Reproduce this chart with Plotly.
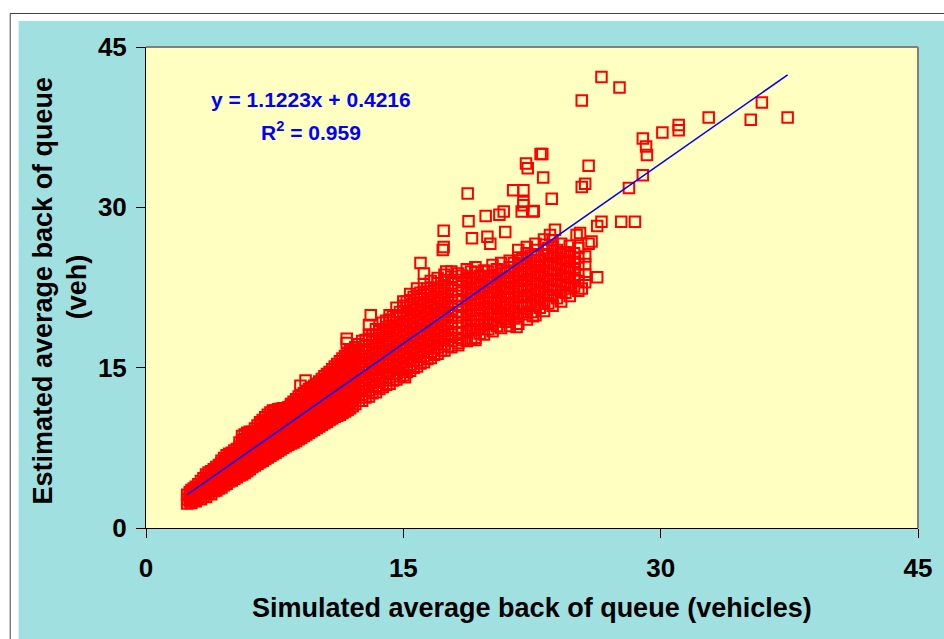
import plotly.graph_objects as go

# ---------------- data ----------------
axis_ticks = [0, 15, 30, 45]
x_title = "Simulated average back of queue (vehicles)"
y_title_1 = "Estimated average back of queue"
y_title_2 = "(veh)"
trend_slope = 1.1223
trend_intercept = 0.4216
eq_text = "y = 1.1223x + 0.4216"
r2_text = "R<sup>2</sup> = 0.959"

# dense lower band: simulated value -> estimated values in that column
band_a = {
    2.4: [2.3, 2.7, 3.1],
    2.65: [2.35, 2.8, 3.2, 3.55],
    2.9: [2.5, 2.95, 3.4, 3.85],
    3.2: [2.7, 3.15, 3.6, 4.05, 4.4],
    3.5: [2.9, 3.35, 3.8, 4.25, 4.7, 5.0],
    3.8: [3.15, 3.6, 4.05, 4.5, 4.95, 5.3],
    4.1: [3.5, 3.95, 4.4, 4.85, 5.3, 5.7],
    4.4: [3.8, 4.25, 4.7, 5.15, 5.6, 6.05, 6.3],
    4.7: [4.15, 4.6, 5.05, 5.5, 5.95, 6.4, 6.8],
    5.0: [4.45, 4.9, 5.35, 5.8, 6.25, 6.7, 7.05],
    5.3: [4.75, 5.2, 5.65, 6.1, 6.55, 7.0, 7.4],
    5.6: [5.0, 5.45, 5.9, 6.35, 6.8, 7.25, 7.7, 8.2, 8.6],
    5.9: [5.3, 5.75, 6.2, 6.65, 7.1, 7.55, 8.0, 8.45, 8.9],
}
band_a_mid = {
    2.55: [2.5, 2.95, 3.35],
    2.78: [2.6, 3.05, 3.5, 3.7],
    3.05: [2.75, 3.2, 3.65, 4.1],
    3.35: [2.95, 3.4, 3.85, 4.3, 4.65],
    3.65: [3.2, 3.6, 4.05, 4.5, 4.95, 5.2],
    3.95: [3.45, 3.85, 4.3, 4.75, 5.2, 5.5],
    4.25: [3.7, 4.15, 4.6, 5.05, 5.5, 5.9],
    4.55: [4.0, 4.45, 4.9, 5.35, 5.8, 6.25, 6.55],
    4.85: [4.35, 4.8, 5.25, 5.7, 6.15, 6.6, 6.95],
    5.15: [4.6, 5.05, 5.5, 5.95, 6.4, 6.85, 7.25],
    5.45: [4.9, 5.35, 5.8, 6.25, 6.7, 7.15, 7.6, 8.0],
    5.75: [5.15, 5.6, 6.05, 6.5, 6.95, 7.4, 7.85, 8.3, 8.75],
    6.05: [5.5, 5.95, 6.4, 6.85, 7.3, 7.75, 8.2, 8.65, 9.0],
}
band_b = {
    6.2: [5.7, 6.2, 6.7, 7.2, 7.7, 8.2, 8.7, 9.0],
    6.5: [6.0, 6.5, 7.0, 7.5, 8.0, 8.5, 9.0, 9.6],
    6.8: [6.3, 6.8, 7.3, 7.8, 8.3, 8.8, 9.3, 9.8, 10.1],
    7.1: [6.6, 7.1, 7.6, 8.1, 8.6, 9.1, 9.6, 10.1, 10.6],
    7.4: [6.9, 7.4, 7.9, 8.4, 8.9, 9.4, 9.9, 10.4, 11.0],
    7.7: [7.2, 7.7, 8.2, 8.7, 9.2, 9.7, 10.2, 10.7, 11.1],
    8.0: [7.5, 8.0, 8.5, 9.0, 9.5, 10.0, 10.5, 11.0, 11.2],
    8.3: [7.8, 8.3, 8.8, 9.3, 9.8, 10.3, 10.8, 11.3],
    8.6: [8.0, 8.5, 9.0, 9.5, 10.0, 10.5, 11.0, 11.5, 11.8],
    8.9: [8.3, 8.8, 9.3, 9.8, 10.3, 10.8, 11.3, 11.8, 12.3],
    9.2: [8.6, 9.1, 9.6, 10.1, 10.6, 11.1, 11.6, 12.1, 12.6],
    9.5: [8.9, 9.4, 9.9, 10.4, 10.9, 11.4, 11.9, 12.4, 13.0],
    9.8: [9.2, 9.7, 10.2, 10.7, 11.2, 11.7, 12.2, 12.7, 13.3],
    10.1: [9.5, 10.0, 10.5, 11.0, 11.5, 12.0, 12.5, 13.0, 13.7],
    10.4: [9.8, 10.3, 10.8, 11.3, 11.8, 12.3, 12.8, 13.3, 13.8, 14.2],
    10.7: [10.1, 10.6, 11.1, 11.6, 12.1, 12.6, 13.1, 13.6, 14.1, 14.6],
    11.0: [10.4, 10.9, 11.4, 11.9, 12.4, 12.9, 13.4, 13.9, 14.4, 15.1],
    11.3: [10.6, 11.1, 11.6, 12.1, 12.6, 13.1, 13.6, 14.1, 14.6, 15.1, 15.6],
    11.6: [10.9, 11.4, 11.9, 12.4, 12.9, 13.4, 13.9, 14.4, 14.9, 15.4, 16.1],
    11.9: [11.2, 11.7, 12.2, 12.7, 13.2, 13.7, 14.2, 14.7, 15.2, 15.7, 16.2, 16.6],
}
band_b_mid = {
    6.35: [5.85, 6.35, 6.85, 7.35, 7.85, 8.35, 8.85, 9.3],
    6.65: [6.15, 6.65, 7.15, 7.65, 8.15, 8.65, 9.15, 9.65, 9.9],
    6.95: [6.45, 6.95, 7.45, 7.95, 8.45, 8.95, 9.45, 9.95, 10.35],
    7.25: [6.75, 7.25, 7.75, 8.25, 8.75, 9.25, 9.75, 10.25, 10.8],
    7.55: [7.05, 7.55, 8.05, 8.55, 9.05, 9.55, 10.05, 10.55, 11.0],
    7.85: [7.35, 7.85, 8.35, 8.85, 9.35, 9.85, 10.35, 10.85, 11.15],
    8.15: [7.65, 8.15, 8.65, 9.15, 9.65, 10.15, 10.65, 11.1],
    8.45: [7.9, 8.4, 8.9, 9.4, 9.9, 10.4, 10.9, 11.4, 11.6],
    8.75: [8.15, 8.65, 9.15, 9.65, 10.15, 10.65, 11.15, 11.65, 12.05],
    9.05: [8.45, 8.95, 9.45, 9.95, 10.45, 10.95, 11.45, 11.95, 12.45],
    9.35: [8.75, 9.25, 9.75, 10.25, 10.75, 11.25, 11.75, 12.25, 12.8],
    9.65: [9.05, 9.55, 10.05, 10.55, 11.05, 11.55, 12.05, 12.55, 13.15],
    9.95: [9.35, 9.85, 10.35, 10.85, 11.35, 11.85, 12.35, 12.85, 13.5],
    10.25: [9.65, 10.15, 10.65, 11.15, 11.65, 12.15, 12.65, 13.15, 13.6, 13.95],
    10.55: [9.95, 10.45, 10.95, 11.45, 11.95, 12.45, 12.95, 13.45, 13.95, 14.4],
    10.85: [10.25, 10.75, 11.25, 11.75, 12.25, 12.75, 13.25, 13.75, 14.25, 14.85],
    11.15: [10.5, 11.0, 11.5, 12.0, 12.5, 13.0, 13.5, 14.0, 14.5, 14.95, 15.35],
    11.45: [10.75, 11.25, 11.75, 12.25, 12.75, 13.25, 13.75, 14.25, 14.75, 15.25, 15.85],
    11.75: [11.05, 11.55, 12.05, 12.55, 13.05, 13.55, 14.05, 14.55, 15.05, 15.55, 16.05, 16.4],
    12.05: [11.4, 11.9, 12.4, 12.9, 13.4, 13.9, 14.4, 14.9, 15.4, 15.9, 16.5],
}
band_c = {
    12.2: [11.6, 12.2, 12.8, 13.4, 14.0, 14.6, 15.2, 15.8, 16.4, 16.9],
    12.6: [11.9, 12.5, 13.1, 13.7, 14.3, 14.9, 15.5, 16.1, 16.7, 17.5],
    13.0: [12.3, 12.9, 13.5, 14.1, 14.7, 15.3, 15.9, 16.5, 17.1, 17.7, 18.1],
    13.4: [12.7, 13.3, 13.9, 14.5, 15.1, 15.7, 16.3, 16.9, 17.5, 18.1, 18.6],
    13.8: [13.2, 13.8, 14.4, 15.0, 15.6, 16.2, 16.8, 17.4, 18.0, 18.6, 19.2],
    14.2: [13.5, 14.1, 14.7, 15.3, 15.9, 16.5, 17.1, 17.7, 18.3, 18.9, 19.5, 19.9],
    14.6: [13.9, 14.5, 15.1, 15.7, 16.3, 16.9, 17.5, 18.1, 18.7, 19.3, 19.9, 20.6],
    15.0: [14.3, 14.9, 15.5, 16.1, 16.7, 17.3, 17.9, 18.5, 19.1, 19.7, 20.3, 20.8, 21.2],
    15.4: [14.7, 15.3, 15.9, 16.5, 17.1, 17.7, 18.3, 18.9, 19.5, 20.1, 20.7, 21.3, 21.9],
    15.8: [15.1, 15.7, 16.3, 16.9, 17.5, 18.1, 18.7, 19.3, 19.9, 20.5, 21.1, 21.7, 22.4],
    16.2: [15.5, 16.1, 16.7, 17.3, 17.9, 18.5, 19.1, 19.7, 20.3, 20.9, 21.5, 22.1, 22.8],
    16.6: [15.9, 16.5, 17.1, 17.7, 18.3, 18.9, 19.5, 20.1, 20.7, 21.3, 21.9, 22.5, 23.1],
    17.0: [16.3, 16.9, 17.5, 18.1, 18.7, 19.3, 19.9, 20.5, 21.1, 21.7, 22.3, 22.9, 23.4],
    17.4: [16.6, 17.2, 17.8, 18.4, 19.0, 19.6, 20.2, 20.8, 21.4, 22.0, 22.6, 23.2, 23.7],
    17.8: [16.9, 17.5, 18.1, 18.7, 19.3, 19.9, 20.5, 21.1, 21.7, 22.3, 22.9, 23.5, 24.0],
}
band_c_mid = {
    12.4: [11.9, 12.5, 13.1, 13.7, 14.3, 14.9, 15.5, 16.1, 16.7, 17.2],
    12.8: [12.2, 12.8, 13.4, 14.0, 14.6, 15.2, 15.8, 16.4, 17.0, 17.6],
    13.2: [12.6, 13.2, 13.8, 14.4, 15.0, 15.6, 16.2, 16.8, 17.4, 18.0],
    13.6: [13.0, 13.6, 14.2, 14.8, 15.4, 16.0, 16.6, 17.2, 17.8, 18.4],
    14.0: [13.4, 14.0, 14.6, 15.2, 15.8, 16.4, 17.0, 17.6, 18.2, 18.8, 19.4],
    14.4: [13.8, 14.4, 15.0, 15.6, 16.2, 16.8, 17.4, 18.0, 18.6, 19.2, 19.8],
    14.8: [14.2, 14.8, 15.4, 16.0, 16.6, 17.2, 17.8, 18.4, 19.0, 19.6, 20.2],
    15.2: [14.6, 15.2, 15.8, 16.4, 17.0, 17.6, 18.2, 18.8, 19.4, 20.0, 20.6, 21.2],
    15.6: [15.0, 15.6, 16.2, 16.8, 17.4, 18.0, 18.6, 19.2, 19.8, 20.4, 21.0, 21.6],
    16.0: [15.4, 16.0, 16.6, 17.2, 17.8, 18.4, 19.0, 19.6, 20.2, 20.8, 21.4, 22.0],
    16.4: [15.8, 16.4, 17.0, 17.6, 18.2, 18.8, 19.4, 20.0, 20.6, 21.2, 21.8, 22.4],
    16.8: [16.2, 16.8, 17.4, 18.0, 18.6, 19.2, 19.8, 20.4, 21.0, 21.6, 22.2],
    17.2: [16.6, 17.2, 17.8, 18.4, 19.0, 19.6, 20.2, 20.8, 21.4, 22.0, 22.6],
    17.6: [17.0, 17.6, 18.2, 18.8, 19.4, 20.0, 20.6, 21.2, 21.8, 22.4],
}
band_d = {
    18.2: [17.1, 17.8, 18.7, 19.3, 20.2, 20.8, 21.7, 22.3, 23.2, 23.8],
    18.7: [17.5, 18.4, 19.0, 19.9, 20.5, 21.4, 22.0, 22.9, 23.4, 24.2],
    19.2: [17.8, 18.5, 19.4, 20.0, 20.9, 21.5, 22.4, 23.0, 23.9, 24.4],
    19.7: [18.1, 19.0, 19.6, 20.5, 21.1, 22.0, 22.6, 23.5, 24.1],
    20.2: [18.4, 19.1, 20.0, 20.6, 21.5, 22.1, 23.0, 23.6, 24.6],
    20.7: [18.7, 19.6, 20.2, 21.1, 21.7, 22.6, 23.2, 24.1, 24.8],
    21.2: [18.9, 19.8, 20.4, 21.4, 22.0, 22.9, 23.5, 24.4, 25.0],
    21.7: [19.1, 20.0, 20.6, 21.6, 22.2, 23.1, 23.7, 24.7, 25.3, 26.0],
    22.2: [19.5, 20.2, 21.2, 21.8, 22.7, 23.3, 24.2, 24.8, 25.7, 26.3],
    22.7: [19.9, 20.8, 21.4, 22.3, 22.9, 23.9, 24.5, 25.4, 26.0, 26.6],
    23.2: [20.3, 21.0, 22.0, 22.6, 23.5, 24.1, 25.0, 25.6, 26.5, 27.0],
    23.7: [20.8, 21.7, 22.3, 23.2, 23.8, 24.8, 25.4, 26.3, 26.9],
    24.2: [21.2, 22.1, 22.7, 23.7, 24.3, 25.2, 25.8, 26.6],
    24.7: [21.7, 22.4, 23.4, 24.0, 24.9, 25.5, 26.4],
    25.2: [22.2, 23.1, 23.7, 24.7, 25.3, 26.2],
    25.6: [23.0, 23.7, 24.7, 25.4],
}
band_d_mid = {
    18.45: [17.6, 18.3, 19.2, 19.9, 20.7, 21.4, 22.2, 23.0, 23.6],
    18.95: [17.7, 18.6, 19.4, 20.3, 21.0, 21.8, 22.5, 23.3, 24.0],
    19.45: [18.2, 19.0, 19.9, 20.6, 21.3, 22.1, 22.8, 23.6],
    19.95: [18.6, 19.3, 20.2, 21.0, 21.7, 22.5, 23.3, 24.0],
    20.45: [18.9, 19.8, 20.5, 21.3, 22.0, 22.8, 23.4, 24.2],
    20.95: [19.3, 20.0, 20.9, 21.6, 22.4, 23.1, 23.9],
    21.45: [19.6, 20.3, 21.1, 21.9, 22.6, 23.4, 24.1, 24.8],
    21.95: [20.0, 20.8, 21.6, 22.4, 23.1, 23.9, 24.5, 25.2],
    22.45: [20.2, 21.0, 21.8, 22.6, 23.3, 24.1, 24.8, 25.5],
    22.95: [20.6, 21.4, 22.1, 22.9, 23.7, 24.4, 25.1],
    23.45: [21.0, 21.8, 22.6, 23.3, 24.1, 24.8, 25.6, 26.2],
    23.95: [21.5, 22.3, 23.1, 23.8, 24.6, 25.3, 26.0],
    24.45: [22.0, 22.8, 23.5, 24.3, 25.0, 25.8],
    24.95: [22.6, 23.4, 24.2, 24.9, 25.7],
}
outlier_sim = [26.55, 27.6, 25.4, 35.9, 35.25, 37.4, 32.8, 31.05, 31.05, 30.1,
               28.96, 29.15, 29.2, 28.96, 28.15, 25.8, 25.6, 25.4, 23.1, 23.0,
               23.15, 22.15, 22.25, 23.65, 21.4, 22.0, 22.0, 21.9, 22.6, 27.7,
               28.5, 26.55, 26.3, 26.3, 25.4, 25.97, 25.8, 23.84, 23.55, 25.1,
               25.3, 19.8, 20.85, 20.94, 18.75, 19.9, 20.07, 17.35, 17.35, 18.8,
               20.6, 22.0, 22.55, 19.0, 19.2, 18.2, 21.6, 22.55, 21.0, 16.0,
               16.2, 17.3, 11.7, 11.7, 13.1, 13.0, 17.5, 15.1, 9.3, 9.0]
outlier_est = [42.2, 41.2, 40.0, 39.8, 38.2, 38.4, 38.4, 37.7, 37.2, 37.0,
               36.45, 35.7, 34.9, 33.0, 31.8, 33.9, 32.2, 31.9, 35.0, 35.0,
               32.8, 34.1, 33.65, 30.8, 31.6, 31.6, 30.5, 29.6, 29.65, 28.65,
               28.65, 28.65, 28.25, 23.45, 22.4, 26.8, 26.6, 27.9, 27.4, 27.4,
               27.6, 29.2, 29.6, 27.7, 31.3, 27.25, 26.6, 27.8, 26.3, 28.7,
               29.3, 30.2, 29.6, 27.1, 17.6, 17.3, 18.8, 19.8, 19.5, 24.8,
               23.8, 26.0, 17.7, 17.3, 19.9, 19.0, 24.0, 14.1, 13.8, 13.3]

# ---------------- build the point table ----------------
sim, est = [], []
for band in (band_a, band_a_mid, band_b, band_b_mid, band_c, band_c_mid,
             band_d, band_d_mid):
    for xv, ys in band.items():
        for yv in ys:
            sim.append(xv)
            est.append(yv)
sim += outlier_sim
est += outlier_est

x_lo, x_hi = min(sim), max(sim)
trend_x = [x_lo, x_hi]
trend_y = [trend_slope * v + trend_intercept for v in trend_x]

# ---------------- layout geometry (pixels) ----------------
W, H = 944, 639
PL, PR, PT, PB = 146, 922, 47, 528


def px(xp):
    return (xp - PL) / (PR - PL)


def py(yp):
    return (PB - yp) / (PB - PT)


FONT = "Liberation Sans, Arial, Helvetica, sans-serif"
CYAN = "#A0E0E0"
YELLOW = "#FFFFC2"

fig = go.Figure()
fig.add_trace(go.Scatter(
    x=sim, y=est, mode="markers",
    marker=dict(symbol="square-open", size=10.5, color="#FF0000",
                line=dict(width=2, color="#FF0000")),
    hoverinfo="skip", showlegend=False))
fig.add_trace(go.Scatter(
    x=trend_x, y=trend_y, mode="lines",
    line=dict(color="#0000FF", width=1.6),
    hoverinfo="skip", showlegend=False))

axis_common = dict(
    range=[0, 45], tickmode="array", tickvals=axis_ticks,
    ticktext=[str(t) for t in axis_ticks],
    ticks="outside", ticklen=9, tickwidth=1, tickcolor="#000000",
    showline=True, linecolor="#000000", linewidth=1,
    showgrid=False, zeroline=False, fixedrange=True,
    tickfont=dict(family=FONT, size=26, color="#000000", weight="bold"),
)

fig.update_layout(
    width=W, height=H, autosize=False,
    margin=dict(l=PL, r=W - PR, t=PT, b=H - PB, pad=0),
    paper_bgcolor=CYAN, plot_bgcolor=YELLOW,
    xaxis=dict(**axis_common, ticklabelstandoff=8),
    yaxis=dict(**axis_common, ticklabelstandoff=4),
    showlegend=False,
    shapes=[
        # white page margin above and left of the chart area
        dict(type="rect", xref="paper", yref="paper", layer="below",
             x0=px(-20), x1=px(990), y0=py(21), y1=py(-20),
             line=dict(width=0), fillcolor="#FFFFFF"),
        dict(type="rect", xref="paper", yref="paper", layer="below",
             x0=px(-20), x1=px(18), y0=py(700), y1=py(-20),
             line=dict(width=0), fillcolor="#FFFFFF"),
        # thin dark outer frame
        dict(type="line", xref="paper", yref="paper", layer="below",
             x0=px(9.5), x1=px(990), y0=py(13.5), y1=py(13.5),
             line=dict(color="#404040", width=1)),
        dict(type="line", xref="paper", yref="paper", layer="below",
             x0=px(9.5), x1=px(9.5), y0=py(700), y1=py(13.5),
             line=dict(color="#404040", width=1)),
        # grey plot-area border (top and right)
        dict(type="line", xref="paper", yref="paper", layer="above",
             x0=0, x1=1, y0=1, y1=1, line=dict(color="#808080", width=2)),
        dict(type="line", xref="paper", yref="paper", layer="above",
             x0=1, x1=1, y0=0, y1=1, line=dict(color="#808080", width=2)),
    ],
    annotations=[
        dict(text=x_title, xref="paper", yref="paper", x=0.5, y=py(608),
             xanchor="center", yanchor="middle", showarrow=False,
             font=dict(family=FONT, size=27, color="#000000", weight="bold")),
        dict(text=y_title_1, xref="paper", yref="paper", x=px(42), y=py(291),
             xanchor="center", yanchor="middle", showarrow=False, textangle=-90,
             font=dict(family=FONT, size=27, color="#000000", weight="bold")),
        dict(text=y_title_2, xref="paper", yref="paper", x=px(77), y=py(287),
             xanchor="center", yanchor="middle", showarrow=False, textangle=-90,
             font=dict(family=FONT, size=27, color="#000000", weight="bold")),
        dict(text=eq_text, xref="paper", yref="paper", x=px(312), y=py(100),
             xanchor="center", yanchor="middle", showarrow=False,
             font=dict(family=FONT, size=21, color="#0000FF", weight="bold")),
        dict(text=r2_text, xref="paper", yref="paper", x=px(312), y=py(131),
             xanchor="center", yanchor="middle", showarrow=False,
             font=dict(family=FONT, size=21, color="#0000FF", weight="bold")),
    ],
)

fig.write_html("out.html", config={"displayModeBar": False},
               post_script="document.body.style.margin='0px';")
